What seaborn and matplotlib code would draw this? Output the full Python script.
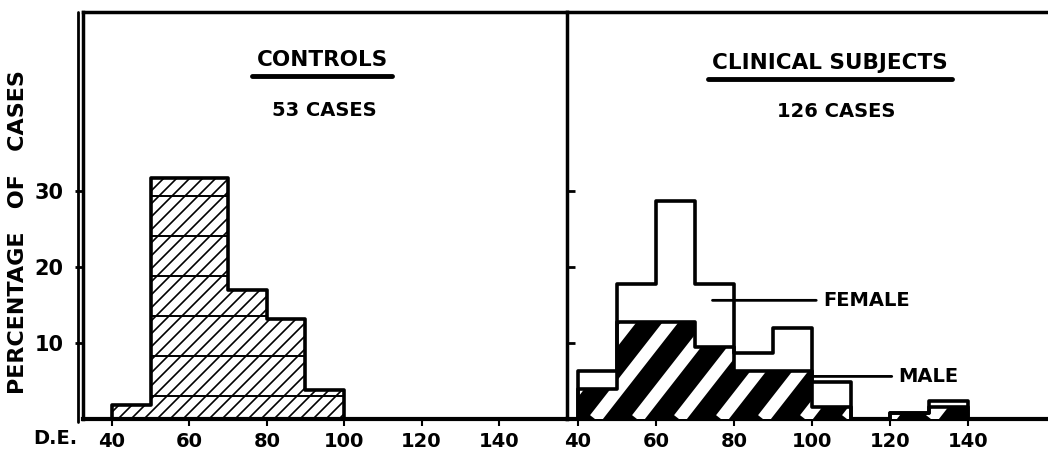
import numpy as np
import matplotlib
matplotlib.use('Agg')
import matplotlib.pyplot as plt
from matplotlib.collections import LineCollection
from matplotlib.lines import Line2D
from matplotlib.transforms import Affine2D, IdentityTransform
import seaborn as sns

# percentage of cases per 10-unit D.E. bin (bin centres)
control_bins = [45, 55, 65, 75, 85, 95]
control_pct = [1.9, 31.7, 31.7, 17.0, 13.2, 3.8]

clinical_bins = [45, 55, 65, 75, 85, 95, 105, 115, 125, 135]
clinical_total = [6.3, 17.8, 28.6, 17.8, 8.7, 11.9, 4.8, 0.0, 0.8, 2.4]
clinical_male = [4.0, 12.7, 12.7, 9.5, 6.3, 6.3, 1.6, 0.0, 0.8, 1.6]

de_ticks = [40, 60, 80, 100, 120, 140]
pct_ticks = [10, 20, 30]

left_edges = list(range(30, 111, 10))
right_edges = list(range(30, 151, 10))

sns.set_theme(style='white')
plt.rcParams['font.family'] = ['DejaVu Sans']
plt.rcParams['font.weight'] = 'bold'
plt.rcParams['text.color'] = 'black'
plt.rcParams['xtick.color'] = 'black'
plt.rcParams['ytick.color'] = 'black'

fig = plt.figure(figsize=(10.48, 4.55), dpi=100)
ax1 = fig.add_axes([0.0792, 0.0791, 0.4618, 0.8945])
ax2 = fig.add_axes([0.5410, 0.0791, 0.4590, 0.8945])


def hist_fill(ax, centers, pct, edges, color):
    n = len(ax.patches)
    sns.histplot(x=centers, weights=pct, bins=edges, ax=ax, element='bars',
                 fill=True, color=color, edgecolor='none', linewidth=0, alpha=1)
    return ax.patches[n:]


def hist_outline(ax, centers, pct, edges):
    sns.histplot(x=centers, weights=pct, bins=edges, ax=ax, element='step',
                 fill=False, color='black', linewidth=2.6, zorder=5)


def add_stripes(ax, patch, step_px, angle, lw, color, offset=0):
    # draw hatch lines in axes-pixel space, clipped to one bar
    pos = ax.get_position()
    w = pos.width * fig.get_figwidth() * fig.dpi
    h = pos.height * fig.get_figheight() * fig.dpi
    tr = Affine2D().scale(1 / w, 1 / h) + ax.transAxes
    if angle == 0:
        segs = [[(0, y), (w, y)] for y in np.arange(offset, h, step_px)]
    else:
        run = h / np.tan(np.radians(angle))
        segs = [[(x, 0), (x + run, h)]
                for x in np.arange(-run + offset, w + step_px, step_px)]
    lc = LineCollection(segs, colors=color, linewidths=lw, transform=tr, zorder=3)
    ax.add_collection(lc, autolim=False)
    lc.set_clip_path(patch)


# ---- controls ----
bars = hist_fill(ax1, control_bins, control_pct, left_edges, 'white')
for p in bars:
    add_stripes(ax1, p, 13, 45, 1.2, 'black')
    add_stripes(ax1, p, 40, 0, 1.4, 'black', offset=23)
hist_outline(ax1, control_bins, control_pct, left_edges)

# ---- clinical subjects ----
male_bars = hist_fill(ax2, clinical_bins, clinical_male, right_edges, 'black')
for p in male_bars:
    add_stripes(ax2, p, 42, 52, 9.0, 'white', offset=10)
hist_outline(ax2, clinical_bins, clinical_total, right_edges)
hist_outline(ax2, clinical_bins, clinical_male, right_edges)

for ax, xlim in [(ax1, (32.5, 157.6)), (ax2, (37.2, 160.5))]:
    ax.set_xlim(*xlim)
    ax.set_ylim(0, 53.5)
    ax.set_xticks(de_ticks)
    ax.set_xticklabels([str(t) for t in de_ticks], fontsize=14, fontweight='bold')
    ax.set_yticks(pct_ticks)
    ax.set_xlabel('')
    ax.set_ylabel('')
    ax.tick_params(axis='x', bottom=True, direction='out', length=5, width=1.5, pad=4)
    for s in ax.spines.values():
        s.set_color('black')
    ax.spines['bottom'].set_linewidth(3)
    ax.spines['top'].set_linewidth(2.5)
    ax.spines['left'].set_linewidth(2.5)
    ax.spines['right'].set_visible(False)

ax1.set_yticklabels([str(t) for t in pct_ticks], fontsize=15, fontweight='bold')
ax1.tick_params(axis='y', left=True, direction='out', length=6, width=2, pad=8)
ax2.set_yticklabels([])
ax2.tick_params(axis='y', left=True, direction='in', length=6, width=2)

# outer line of the double frame on the left
ax1.plot([-0.011, -0.011], [-0.008, 1.0], transform=ax1.transAxes,
         color='black', lw=2, clip_on=False)

# headings
t1 = ax1.text(0.494, 0.882, 'CONTROLS', transform=ax1.transAxes,
              ha='center', va='center', fontsize=15.5, fontweight='bold')
ax1.text(0.498, 0.757, '53 CASES', transform=ax1.transAxes,
         ha='center', va='center', fontsize=14, fontweight='bold')
t2 = ax2.text(0.547, 0.875, 'CLINICAL SUBJECTS', transform=ax2.transAxes,
              ha='center', va='center', fontsize=15.5, fontweight='bold')
ax2.text(0.559, 0.755, '126 CASES', transform=ax2.transAxes,
         ha='center', va='center', fontsize=14, fontweight='bold')

ax2.annotate('FEMALE', xy=(74.5, 15.6), xytext=(103, 15.6), ha='left', va='center',
             fontsize=14, fontweight='bold',
             arrowprops=dict(arrowstyle='-', lw=2, color='black', shrinkA=3, shrinkB=0))
ax2.annotate('MALE', xy=(100, 5.6), xytext=(122, 5.6), ha='left', va='center',
             fontsize=14, fontweight='bold',
             arrowprops=dict(arrowstyle='-', lw=2, color='black', shrinkA=2, shrinkB=0))

ax1.text(-0.058, -0.047, 'D.E.', transform=ax1.transAxes, ha='center', va='center',
         fontsize=14, fontweight='bold')

fig.text(18 / 1048, 1 - 232 / 455, 'PERCENTAGE   OF   CASES', rotation=90,
         ha='center', va='center', fontsize=16, fontweight='bold')

# underline the headings
fig.canvas.draw()
for t in (t1, t2):
    bb = t.get_window_extent()
    fig.add_artist(Line2D([bb.x0 - 4, bb.x1 + 4], [bb.y0 - 6, bb.y0 - 6],
                          transform=IdentityTransform(), color='black', lw=3.5))

fig.savefig('out.png', dpi=100)
